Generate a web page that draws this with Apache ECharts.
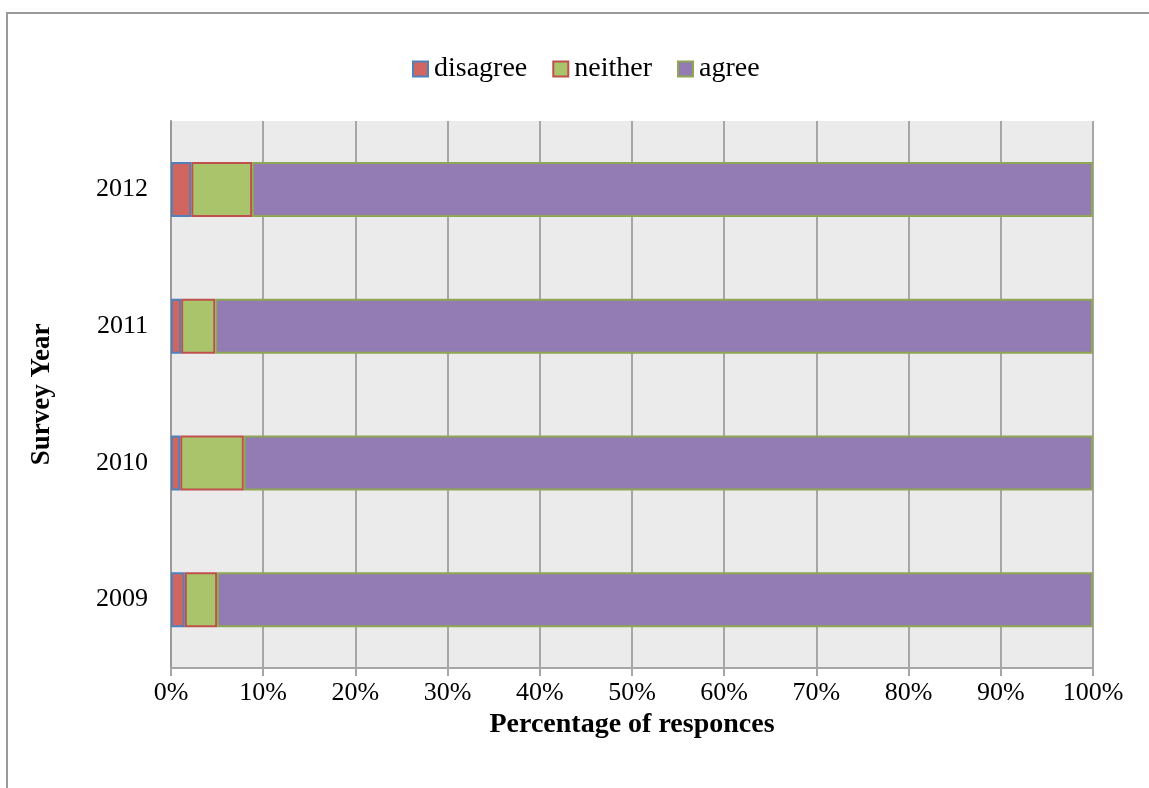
<!DOCTYPE html>
<html>
<head>
<meta charset="utf-8">
<script src="https://cdn.jsdelivr.net/npm/echarts@6/dist/echarts.min.js"></script>
<style>html,body{margin:0;padding:0;background:#fff}#c{width:1149px;height:788px}</style>
</head>
<body>
<div id="c"></div>
<script>
const years = ['2009', '2010', '2011', '2012'];
const disagree = [1.5, 1.0, 1.1, 2.2];
const neither = [3.5, 6.9, 3.7, 6.6];
const agree = [95.0, 92.1, 95.2, 91.2];
const xTicks = [0, 10, 20, 30, 40, 50, 60, 70, 80, 90, 100];

const font = 'Liberation Serif';
const chart = echarts.init(document.getElementById('c'));
function mk(name, data, fill, stroke) {
  return {
    name: name, type: 'bar', stack: 'total', data: data, barWidth: 55,
    itemStyle: { color: fill, borderColor: stroke, borderWidth: 2 },
    emphasis: { disabled: true }
  };
}
chart.setOption({
  animation: false,
  backgroundColor: '#fff',
  graphic: [{
    type: 'rect', shape: { x: 7, y: 13, width: 1300, height: 900 },
    style: { fill: 'none', stroke: '#9a9a9a', lineWidth: 2 }, silent: true
  }],
  legend: {
    top: 50, left: 407, itemWidth: 15, itemHeight: 15, itemGap: 25, icon: 'rect',
    textStyle: { fontFamily: font, fontSize: 28, color: '#000', padding: [0, 0, 0, 1] },
    data: ['disagree', 'neither', 'agree']
  },
  grid: {
    left: 171, right: 56, top: 121, bottom: 120,
    show: true, backgroundColor: '#EBEBEB', borderWidth: 0
  },
  xAxis: {
    type: 'value', min: 0, max: 100, interval: 10,
    axisLabel: { formatter: v => xTicks.includes(v) ? v + '%' : '', fontFamily: font, fontSize: 26, color: '#000', margin: 12 },
    axisLine: { show: true, lineStyle: { color: '#a6a6a6', width: 2 } },
    axisTick: { show: true, length: 8, lineStyle: { color: '#a6a6a6', width: 2 } },
    splitLine: { show: true, lineStyle: { color: '#a6a6a6', width: 2 } },
    name: 'Percentage of responces', nameLocation: 'middle', nameGap: 32,
    nameTextStyle: { fontFamily: font, fontSize: 28, fontWeight: 'bold', color: '#000' }
  },
  yAxis: {
    type: 'category', data: years,
    axisLabel: { fontFamily: font, fontSize: 26, color: '#000', margin: 23 },
    axisLine: { show: true, lineStyle: { color: '#999', width: 2 } },
    axisTick: { show: false },
    splitLine: { show: false },
    name: 'Survey Year', nameLocation: 'middle', nameGap: 115, nameRotate: 90,
    nameTextStyle: { fontFamily: font, fontSize: 27, fontWeight: 'bold', color: '#000' }
  },
  series: [
    mk('disagree', disagree, '#D0665F', '#4F81BD'),
    mk('neither', neither, '#AAC46B', '#C0504D'),
    mk('agree', agree, '#927CB3', '#8FA653')
  ]
});
</script>
</body>
</html>
